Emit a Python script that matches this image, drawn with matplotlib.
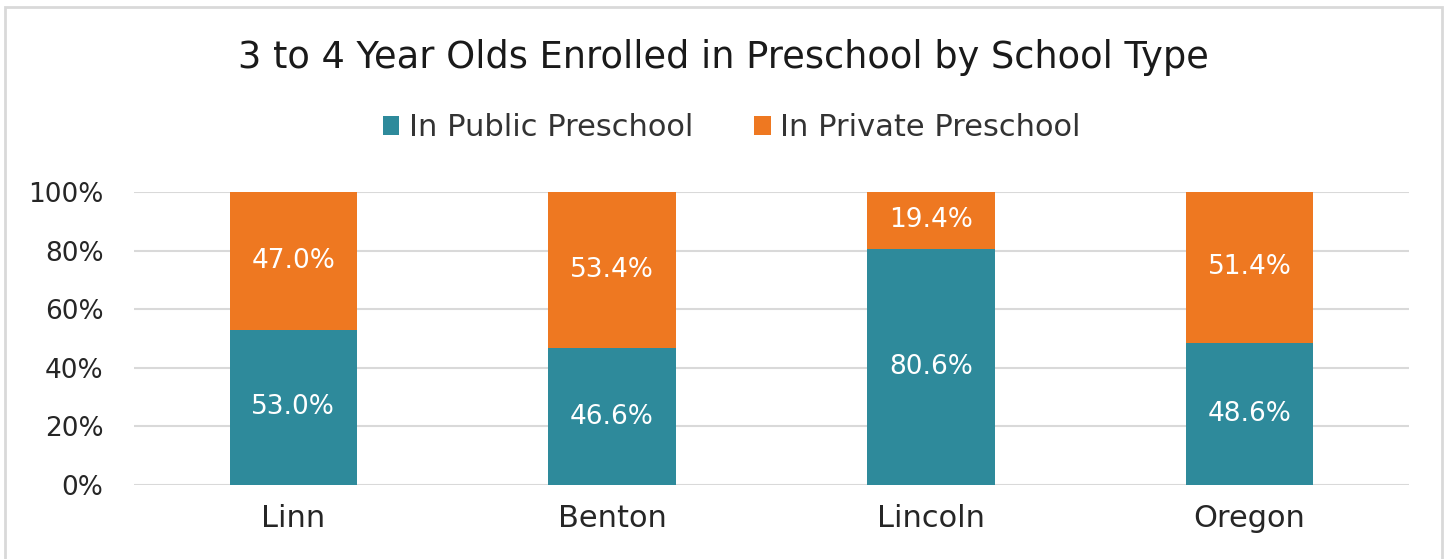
import matplotlib.pyplot as plt
from matplotlib.patches import Rectangle

categories = ["Linn", "Benton", "Lincoln", "Oregon"]
public = [53.0, 46.6, 80.6, 48.6]
private = [47.0, 53.4, 19.4, 51.4]
yticks = [0, 20, 40, 60, 80, 100]

teal = "#2E8A9B"
orange = "#EE7821"
plt.rcParams['font.family'] = ['DejaVu Sans']

fig = plt.figure(figsize=(14.47, 5.59), dpi=100)
ax = fig.add_axes([0.0926, 0.1324, 0.8811, 0.5241])

# outer frame
fig.patches.append(Rectangle((5 / 1447, -0.01), 1437 / 1447, 1 - 7 / 559 + 0.01,
                             transform=fig.transFigure, fill=False,
                             edgecolor="#D9D9D9", linewidth=2))

x = range(len(categories))
b1 = ax.bar(x, public, width=0.4, color=teal, label="In Public Preschool", zorder=3)
b2 = ax.bar(x, private, width=0.4, bottom=public, color=orange,
            label="In Private Preschool", zorder=3)

for rect, v in zip(b1, public):
    ax.text(rect.get_x() + rect.get_width() / 2, rect.get_y() + rect.get_height() / 2,
            f"{v:.1f}%", ha="center", va="center", color="white", fontsize=19, zorder=4)
for rect, v in zip(b2, private):
    ax.text(rect.get_x() + rect.get_width() / 2, rect.get_y() + rect.get_height() / 2,
            f"{v:.1f}%", ha="center", va="center", color="white", fontsize=19, zorder=4)

ax.set_xlim(-0.5, len(categories) - 0.5)
ax.set_ylim(0, 100)
ax.set_yticks(yticks)
ax.set_yticklabels([f"{t}%" for t in yticks], fontsize=19, color="#262626")
ax.set_xticks(list(x))
ax.set_xticklabels(categories, fontsize=22, color="#262626")
ax.tick_params(length=0, axis="y", pad=22)
ax.tick_params(length=0, axis="x", pad=14)
ax.grid(axis="y", color="#D9D9D9", linewidth=1.5, zorder=0)
for s in ax.spines.values():
    s.set_visible(False)

fig.text(0.5, 1 - 58 / 559, "3 to 4 Year Olds Enrolled in Preschool by School Type",
         ha="center", va="center", fontsize=26.5, color="#1a1a1a")
fig.legend(handles=[b1, b2], loc="center", bbox_to_anchor=(0.5 + 8 / 1447, 1 - 128 / 559),
           ncol=2, frameon=False, fontsize=22, handlelength=0.55, handleheight=0.55,
           handletextpad=0.3, columnspacing=2.0, labelcolor="#333333")

fig.savefig("out.png", dpi=100)
